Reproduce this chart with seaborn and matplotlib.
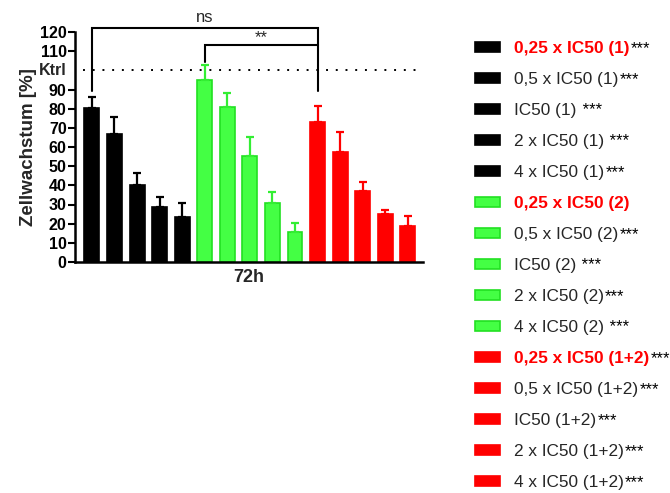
import matplotlib
matplotlib.use("Agg")
import matplotlib.pyplot as plt
from matplotlib.patches import Patch
import seaborn as sns
import pandas as pd

sns.set_theme(style="ticks")
plt.rcParams["font.family"] = ["Liberation Sans", "DejaVu Sans"]

# Cell growth after 72 h, relative to untreated control (= 100 %)
labels = [
    "0,25 x IC50 (1)", "0,5 x IC50 (1)", "IC50 (1)", "2 x IC50 (1)", "4 x IC50 (1)",
    "0,25 x IC50 (2)", "0,5 x IC50 (2)", "IC50 (2)", "2 x IC50 (2)", "4 x IC50 (2)",
    "0,25 x IC50 (1+2)", "0,5 x IC50 (1+2)", "IC50 (1+2)", "2 x IC50 (1+2)", "4 x IC50 (1+2)",
]
means = [80.2, 67.0, 40.2, 28.5, 23.3,
         95.0, 80.7, 55.5, 30.6, 15.8,
         73.2, 57.5, 37.2, 25.2, 19.0]
sd = [5.8, 8.8, 6.1, 5.5, 7.7,
      7.8, 7.3, 9.5, 5.8, 4.7,
      8.2, 10.2, 4.5, 1.9, 5.2]
stars = ["***", "***", " ***", " ***", "***",
         "", "***", " ***", "***", " ***",
         "***", "***", "***", "***", "***"]
highlight = [True, False, False, False, False,
             True, False, False, False, False,
             True, False, False, False, False]
group = ["1"] * 5 + ["2"] * 5 + ["1+2"] * 5

fill = {"1": "#000000", "2": "#44ff44", "1+2": "#ff0000"}
edge = {"1": "#000000", "2": "#22e022", "1+2": "#ff0000"}
errc = {"1": "#000000", "2": "#33ee33", "1+2": "#ff0000"}

df = pd.DataFrame({"label": labels, "mean": means, "sd": sd, "group": group})

fig = plt.figure(figsize=(6.7, 4.93), dpi=100)
ax = fig.add_axes([75 / 670, 1 - 262 / 493, 348 / 670, 230 / 493])

sns.barplot(data=df, x="label", y="mean", hue="label", order=labels,
            palette=[fill[g] for g in group], width=0.66, legend=False,
            errorbar=None, ax=ax, saturation=1)
for p, g in zip(ax.patches, group):
    p.set_edgecolor(edge[g])
    p.set_linewidth(1.2)

for i, (m, s, g) in enumerate(zip(means, sd, group)):
    ax.errorbar(i, m, yerr=[[0], [s]], fmt="none", ecolor=errc[g],
                elinewidth=1.6, capsize=2.6, capthick=1.6, zorder=1)

ax.set_xlim(-0.75, 14.67)
ax.set_ylim(0, 120)
yt = [0, 10, 20, 30, 40, 50, 60, 70, 80, 90, 110, 120]
ax.set_yticks(yt)
ax.set_yticklabels([str(v) for v in yt], fontsize=11.5, fontweight="bold")
ax.set_xticks([])
ax.set_xlabel("72h", fontsize=13, fontweight="bold", labelpad=5)
ax.set_ylabel("Zellwachstum [%]", fontsize=13.5, fontweight="bold", labelpad=2)
ax.tick_params(axis="y", length=5, width=1.5, pad=1, colors="black")
for sp in ["top", "right"]:
    ax.spines[sp].set_visible(False)
for sp in ["left", "bottom"]:
    ax.spines[sp].set_linewidth(1.8)
    ax.spines[sp].set_color("black")

# control level
ax.plot([-0.4, 14.53], [100, 100], color="black", lw=1.4,
        linestyle=(0, (1, 4)), clip_on=False)
ax.annotate("Ktrl", xy=(0, 100), xycoords=("axes fraction", "data"),
            xytext=(-8.5, 0), textcoords="offset pixels",
            ha="right", va="center", fontsize=11.5, fontweight="bold")

# significance brackets
ax.plot([0, 0, 10, 10], [89, 122.3, 122.3, 89], color="black", lw=1.5,
        clip_on=False, solid_joinstyle="miter")
ax.text(5, 123.6, "ns", ha="center", va="bottom", fontsize=12)
ax.plot([5, 5, 10], [104.5, 113, 113], color="black", lw=1.5,
        clip_on=False, solid_joinstyle="miter")
ax.text(7.5, 113.0, "**", ha="center", va="bottom", fontsize=12)

handles = [Patch(facecolor=fill[g], edgecolor=edge[g], linewidth=1.2) for g in group]
leg = fig.legend(handles, labels, loc="upper left",
                 bbox_to_anchor=(472 / 670, 1 - 37.5 / 493),
                 frameon=False, fontsize=12.4, handlelength=1.45, handleheight=0.52,
                 handletextpad=0.8, labelspacing=0.93, borderaxespad=0,
                 borderpad=0.2)
for t, h in zip(leg.get_texts(), highlight):
    if h:
        t.set_color("#ff0000")
        t.set_fontweight("bold")

fig.canvas.draw()
renderer = fig.canvas.get_renderer()
for t, s in zip(leg.get_texts(), stars):
    if not s:
        continue
    bb = t.get_window_extent(renderer)
    x, y = fig.transFigure.inverted().transform((bb.x1, bb.y0))
    fig.text(x + 1 / 670, y + 3 / 493, s, fontsize=12, color="black",
             ha="left", va="baseline")

fig.savefig("out.png", dpi=100)
